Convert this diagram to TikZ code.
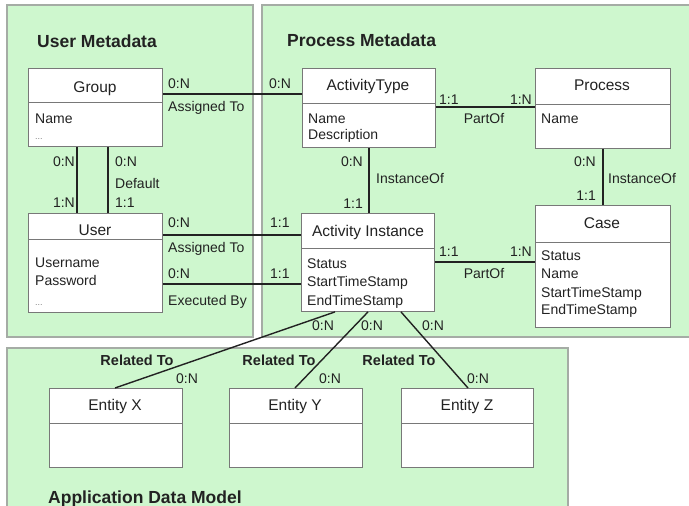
\documentclass[tikz,border=0pt]{standalone}
\usepackage{fontspec}
\setmainfont{Liberation Sans}
\definecolor{panelfill}{RGB}{206,247,206}
\definecolor{panelline}{RGB}{165,172,165}
\definecolor{boxline}{RGB}{120,120,120}
\definecolor{ink}{RGB}{34,34,34}
\tikzset{
  panel/.style={fill=panelfill, draw=panelline, line width=1.6pt},
  ebox/.style={draw=boxline, fill=white, line width=0.9pt, anchor=north west, inner sep=0pt},
  divider/.style={draw=boxline, line width=0.9pt},
  conn/.style={draw=ink, line width=1.4pt},
  ptitle/.style={font=\fontsize{17.5}{20}\selectfont\bfseries, anchor=base west, inner sep=0pt, text=ink},
  etitle/.style={font=\fontsize{15.5}{18}\selectfont, anchor=base, inner sep=0pt, text=ink},
  attr/.style={font=\fontsize{14}{16}\selectfont, anchor=base west, inner sep=0pt, text=ink},
  lbl/.style={font=\fontsize{14}{16}\selectfont, inner sep=0pt, text=ink},
  rel/.style={font=\fontsize{14.5}{17}\selectfont\bfseries, anchor=base, inner sep=0pt, text=ink},
  dots/.style={font=\fontsize{9}{10}\selectfont, anchor=base west, inner sep=0pt, text=gray},
}
\begin{document}
\begin{tikzpicture}[x=1pt,y=-1pt]
\useasboundingbox (0,0) rectangle (689,506);
\clip (0,0) rectangle (689,506);
\fill[white] (0,0) rectangle (689,506);

% --- panels ---
\path[panel] (7,5) rectangle (253,337);
\path[panel] (262,5) rectangle (700,337);
\path[panel] (7,348) rectangle (568,520);
\node[ptitle] (umtitle) at (37,47) {User Metadata};
\node[ptitle] (pmtitle) at (287,46) {Process Metadata};
\node[ptitle] (adtitle) at (48,503) {Application Data Model};

% --- entity boxes ---
\node[ebox, minimum width=134pt, minimum height=78pt] (group) at (28,68) {};
\node[ebox, minimum width=134pt, minimum height=99pt] (user) at (28,213) {};
\node[ebox, minimum width=133pt, minimum height=79pt] (at) at (302,68) {};
\node[ebox, minimum width=135pt, minimum height=80pt] (proc) at (535,68) {};
\node[ebox, minimum width=133pt, minimum height=98pt] (ai) at (301,213) {};
\node[ebox, minimum width=135pt, minimum height=122pt] (case) at (535,205) {};
\node[ebox, minimum width=133pt, minimum height=79pt] (ex) at (49,388) {};
\node[ebox, minimum width=133pt, minimum height=79pt] (ey) at (229,388) {};
\node[ebox, minimum width=132pt, minimum height=79pt] (ez) at (401,388) {};

\draw[divider] (group.west |- 0,102) -- (group.east |- 0,102);
\draw[divider] (user.west |- 0,239) -- (user.east |- 0,239);
\draw[divider] (at.west |- 0,103) -- (at.east |- 0,103);
\draw[divider] (proc.west |- 0,104) -- (proc.east |- 0,104);
\draw[divider] (ai.west |- 0,248) -- (ai.east |- 0,248);
\draw[divider] (case.west |- 0,242) -- (case.east |- 0,242);
\draw[divider] (ex.west |- 0,423) -- (ex.east |- 0,423);
\draw[divider] (ey.west |- 0,423) -- (ey.east |- 0,423);
\draw[divider] (ez.west |- 0,423) -- (ez.east |- 0,423);

% --- box titles and attributes ---
\node[etitle] (groupT) at (95,92) {Group};
\node[attr] (groupA1) at (35,123) {Name};
\node[dots] (groupA2) at (35,139) {...};

\node[etitle] (userT) at (95,235) {User};
\node[attr] (userA1) at (35,267) {Username};
\node[attr] (userA2) at (35,285) {Password};
\node[dots] (userA3) at (35,305) {...};

\node[etitle] (atT) at (368,90) {ActivityType};
\node[attr] (atA1) at (308,123) {Name};
\node[attr] (atA2) at (308,139) {Description};

\node[etitle] (procT) at (602,90) {Process};
\node[attr] (procA1) at (541,123) {Name};

\node[etitle] (aiT) at (368,236) {Activity Instance};
\node[attr] (aiA1) at (307,268) {Status};
\node[attr] (aiA2) at (307,286) {StartTimeStamp};
\node[attr] (aiA3) at (307,305) {EndTimeStamp};

\node[etitle] (caseT) at (602,228) {Case};
\node[attr] (caseA1) at (541,260) {Status};
\node[attr] (caseA2) at (541,278) {Name};
\node[attr] (caseA3) at (541,297) {StartTimeStamp};
\node[attr] (caseA4) at (541,314) {EndTimeStamp};

\node[etitle] (exT) at (115,410) {Entity X};
\node[etitle] (eyT) at (295,410) {Entity Y};
\node[etitle] (ezT) at (467,410) {Entity Z};

% --- connectors ---
\draw[conn] (group.south -| 77,0) -- (user.north -| 77,0);
\draw[conn] (group.south -| 108,0) -- (user.north -| 108,0);
\draw[conn] (group.east |- 0,94) -- (at.west |- 0,94);
\draw[conn] (user.east |- 0,235) -- (ai.west |- 0,235);
\draw[conn] (user.east |- 0,284) -- (ai.west |- 0,284);
\draw[conn] (at.east |- 0,107) -- (proc.west |- 0,107);
\draw[conn] (at.south) -- (ai.north -| at.south);
\draw[conn] (proc.south) -- (case.north -| proc.south);
\draw[conn] (ai.east |- 0,262) -- (case.west |- 0,262);
\draw[conn] (ai.south -| 335,0) -- (ex.north -| 115,0);
\draw[conn] (ai.south -| 368,0) -- (ey.north -| 295,0);
\draw[conn] (ai.south -| 401,0) -- (ez.north -| 468,0);

% --- connector labels ---
\node[lbl, anchor=base east] (l1) at (75,166) {0:N};
\node[lbl, anchor=base east] (l2) at (75,207) {1:N};
\node[lbl, anchor=base west] (l3) at (115,166) {0:N};
\node[lbl, anchor=base west] (l4) at (115,188) {Default};
\node[lbl, anchor=base west] (l5) at (115,207) {1:1};

\node[lbl, anchor=base west] (l6) at (168,88) {0:N};
\node[lbl, anchor=base west] (l7) at (168,111) {Assigned To};
\node[lbl, anchor=base west] (l8) at (269,88) {0:N};

\node[lbl, anchor=base west] (l9) at (168,227) {0:N};
\node[lbl, anchor=base west] (l10) at (168,252) {Assigned To};
\node[lbl, anchor=base west] (l11) at (168,278) {0:N};
\node[lbl, anchor=base west] (l12) at (168,305) {Executed By};
\node[lbl, anchor=base west] (l13) at (270,227) {1:1};
\node[lbl, anchor=base west] (l14) at (270,278) {1:1};

\node[lbl, anchor=base west] (l15) at (439,104) {1:1};
\node[lbl, anchor=base east] (l16) at (532,104) {1:N};
\node[lbl, anchor=base] (l17) at (484,123) {PartOf};

\node[lbl, anchor=base east] (l18) at (363,166) {0:N};
\node[lbl, anchor=base west] (l19) at (376,183) {InstanceOf};
\node[lbl, anchor=base east] (l20) at (363,208) {1:1};

\node[lbl, anchor=base east] (l21) at (596,166) {0:N};
\node[lbl, anchor=base west] (l22) at (608,183) {InstanceOf};
\node[lbl, anchor=base east] (l23) at (596,200) {1:1};

\node[lbl, anchor=base west] (l24) at (439,256) {1:1};
\node[lbl, anchor=base east] (l25) at (532,256) {1:N};
\node[lbl, anchor=base] (l26) at (484,278) {PartOf};

\node[lbl, anchor=base] (l27) at (323,330) {0:N};
\node[lbl, anchor=base] (l28) at (372,330) {0:N};
\node[lbl, anchor=base] (l29) at (433,330) {0:N};
\node[rel] (r1) at (137,365) {Related To};
\node[rel] (r2) at (279,365) {Related To};
\node[rel] (r3) at (399,365) {Related To};
\node[lbl, anchor=base] (l30) at (187,383) {0:N};
\node[lbl, anchor=base] (l31) at (330,383) {0:N};
\node[lbl, anchor=base] (l32) at (478,383) {0:N};
\end{tikzpicture}
\end{document}
